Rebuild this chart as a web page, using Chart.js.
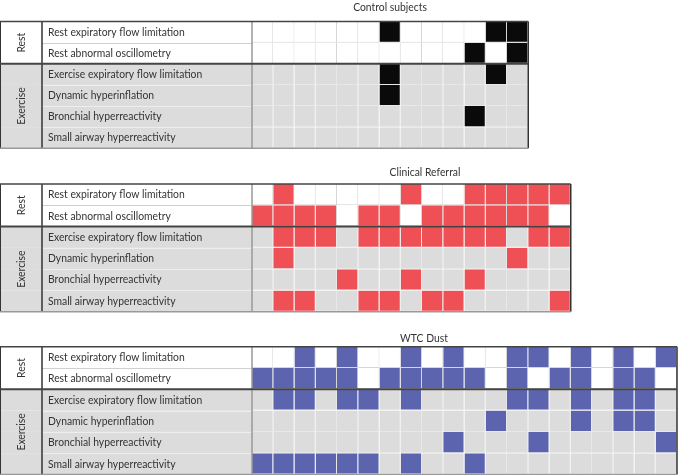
<!DOCTYPE html>
<html>
<head>
<meta charset="utf-8">
<script src="https://cdn.jsdelivr.net/npm/chart.js@4/dist/chart.umd.min.js"></script>
<style>
  body { margin: 0; background: #fff; }
  canvas { position: absolute; left: 0; }
</style>
</head>
<body>
<canvas id="control" width="678" height="160" style="top:0px"></canvas>
<canvas id="clinical" width="678" height="160" style="top:160px"></canvas>
<canvas id="wtc" width="678" height="155" style="top:320px"></canvas>
<script>
// row labels, top to bottom
const rowLabels = [
  'Rest expiratory flow limitation',
  'Rest abnormal oscillometry',
  'Exercise expiratory flow limitation',
  'Dynamic hyperinflation',
  'Bronchial hyperreactivity',
  'Small airway hyperreactivity'
];
const groupLabels = ['Rest', 'Exercise'];
const groupSizes = [2, 4];

// 1 = finding present, one column per subject
const controlRows = [
  [0,0,0,0,0,0,1,0,0,0,0,1,1],
  [0,0,0,0,0,0,0,0,0,0,1,0,1],
  [0,0,0,0,0,0,1,0,0,0,0,1,0],
  [0,0,0,0,0,0,1,0,0,0,0,0,0],
  [0,0,0,0,0,0,0,0,0,0,1,0,0],
  [0,0,0,0,0,0,0,0,0,0,0,0,0]
];
const clinicalRows = [
  [0,1,0,0,0,0,0,1,0,0,1,1,1,1,1],
  [1,1,1,1,0,1,1,0,1,1,1,1,1,1,0],
  [0,1,1,1,0,1,1,1,1,1,1,1,0,1,1],
  [0,1,0,0,0,0,0,0,0,0,0,0,1,0,0],
  [0,0,0,0,1,0,0,1,0,0,1,0,0,0,0],
  [0,1,1,0,0,1,1,0,1,1,0,0,0,0,1]
];
const wtcRows = [
  [0,0,1,0,1,0,0,1,0,1,0,0,1,1,0,1,0,1,0,1],
  [1,1,1,1,1,0,1,1,1,1,1,0,1,0,1,1,0,1,1,0],
  [0,1,1,0,1,1,0,1,0,0,0,0,1,1,0,1,0,1,1,0],
  [0,0,0,0,0,0,0,0,0,0,0,1,0,0,0,1,0,1,1,0],
  [0,0,0,0,0,0,0,0,0,1,0,0,0,1,0,0,0,0,0,1],
  [1,1,1,1,1,1,0,1,0,0,1,0,0,0,0,0,0,0,0,0]
];

const FONT = '11.5px Lato';
const TEXT_SX = 0.9; // the original face is narrower than Lato
const restBg = '#ffffff';
const exBg = '#dcdcdc';
const cellW = 21.25;
const labelLeft = 252;
const groupRight = 42;

function isRest(r) { return r < groupSizes[0]; }

function text(ctx, s, x, y, align) {
  ctx.save();
  ctx.translate(x, y);
  ctx.scale(TEXT_SX, 1);
  ctx.textAlign = align;
  ctx.textBaseline = 'middle';
  ctx.fillText(s, 0, 0);
  ctx.restore();
}

const tablePlugin = {
  id: 'table',
  beforeDatasetsDraw(chart, args, opts) {
    const ctx = chart.ctx;
    const y = chart.scales.y;
    const area = chart.chartArea;
    ctx.save();
    // label column backgrounds
    rowLabels.forEach((lab, r) => {
      const top = y.getPixelForValue(r - 0.5);
      const bot = y.getPixelForValue(r + 0.5);
      ctx.fillStyle = isRest(r) ? restBg : exBg;
      ctx.fillRect(0, top, area.left, bot - top);
    });
    ctx.fillStyle = '#333';
    ctx.font = FONT;
    text(ctx, opts.title, opts.titleX, opts.titleY, 'center');
    rowLabels.forEach((lab, r) => {
      text(ctx, lab, 48, y.getPixelForValue(r), 'left');
    });
    // group labels, rotated
    let start = 0;
    groupLabels.forEach((g, i) => {
      const mid = (y.getPixelForValue(start - 0.5) + y.getPixelForValue(start + groupSizes[i] - 0.5)) / 2;
      ctx.save();
      ctx.translate(groupRight / 2, mid);
      ctx.rotate(-Math.PI / 2);
      text(ctx, g, 0, 0, 'center');
      ctx.restore();
      start += groupSizes[i];
    });
    // row separators in the label column
    for (let r = 1; r < rowLabels.length; r++) {
      if (r === groupSizes[0]) continue;
      const py = Math.round(y.getPixelForValue(r - 0.5)) + 0.5;
      ctx.strokeStyle = isRest(r) ? '#d0d0d0' : '#eeeeee';
      ctx.lineWidth = 1;
      ctx.beginPath();
      ctx.moveTo(groupRight, py);
      ctx.lineTo(area.left, py);
      ctx.stroke();
    }
    ctx.restore();
  },
  afterDatasetsDraw(chart) {
    const ctx = chart.ctx;
    const y = chart.scales.y;
    const a = chart.chartArea;
    const top = y.getPixelForValue(-0.5);
    const bot = y.getPixelForValue(rowLabels.length - 0.5);
    const sep = y.getPixelForValue(groupSizes[0] - 0.5);
    ctx.save();
    function line(x1, y1, x2, y2, c, w) {
      ctx.strokeStyle = c;
      ctx.lineWidth = w;
      ctx.beginPath();
      ctx.moveTo(x1, y1);
      ctx.lineTo(x2, y2);
      ctx.stroke();
    }
    line(labelLeft, top, labelLeft, bot, '#999', 1.5);
    line(groupRight, top, groupRight, bot, '#333', 1.5);
    line(0.5, top, 0.5, bot, '#333', 1);
    line(a.right, top, a.right, bot, '#333', 1.5);
    line(0, sep, a.right, sep, '#444', 2);
    line(0, top, a.right, top, '#444', 1.5);
    line(0, bot, a.right, bot, '#999', 1.5);
    ctx.restore();
  }
};

function makePanel(id, title, rows, color, gridTop, gridBottom, titleX, titleY) {
  const canvas = document.getElementById(id);
  const n = rows[0].length;
  const subjects = rows[0].map((v, i) => String(i + 1));
  const datasets = rows.map((row, r) => ({
    label: rowLabels[r],
    data: row.map(() => [r - 0.5, r + 0.5]),
    backgroundColor: row.map(v => v ? color : (isRest(r) ? restBg : exBg)),
    borderColor: isRest(r) ? '#d6d6d6' : '#e8e8e8',
    borderWidth: { top: 0, left: 0, right: 1, bottom: 1 },
    borderSkipped: false,
    inflateAmount: 0,
    grouped: false,
    barPercentage: 1,
    categoryPercentage: 1
  }));
  return new Chart(canvas, {
    type: 'bar',
    data: { labels: subjects, datasets: datasets },
    options: {
      responsive: false,
      animation: false,
      events: [],
      layout: {
        padding: {
          left: labelLeft,
          right: canvas.width - labelLeft - n * cellW,
          top: gridTop,
          bottom: canvas.height - gridBottom
        }
      },
      scales: {
        x: { type: 'category', display: false, offset: true },
        y: { type: 'linear', display: false, min: -0.5, max: rowLabels.length - 0.5, reverse: true }
      },
      plugins: {
        legend: { display: false },
        tooltip: { enabled: false },
        table: { title: title, titleX: titleX, titleY: titleY }
      }
    },
    plugins: [tablePlugin]
  });
}

makePanel('control', 'Control subjects', controlRows, '#0a0a0a', 21.5, 148.3, 390, 7);
makePanel('clinical', 'Clinical Referral', clinicalRows, '#ef5056', 24, 151.7, 425, 12);
makePanel('wtc', 'WTC Dust', wtcRows, '#5c64b0', 26.7, 154.5, 424, 18);
</script>
</body>
</html>
